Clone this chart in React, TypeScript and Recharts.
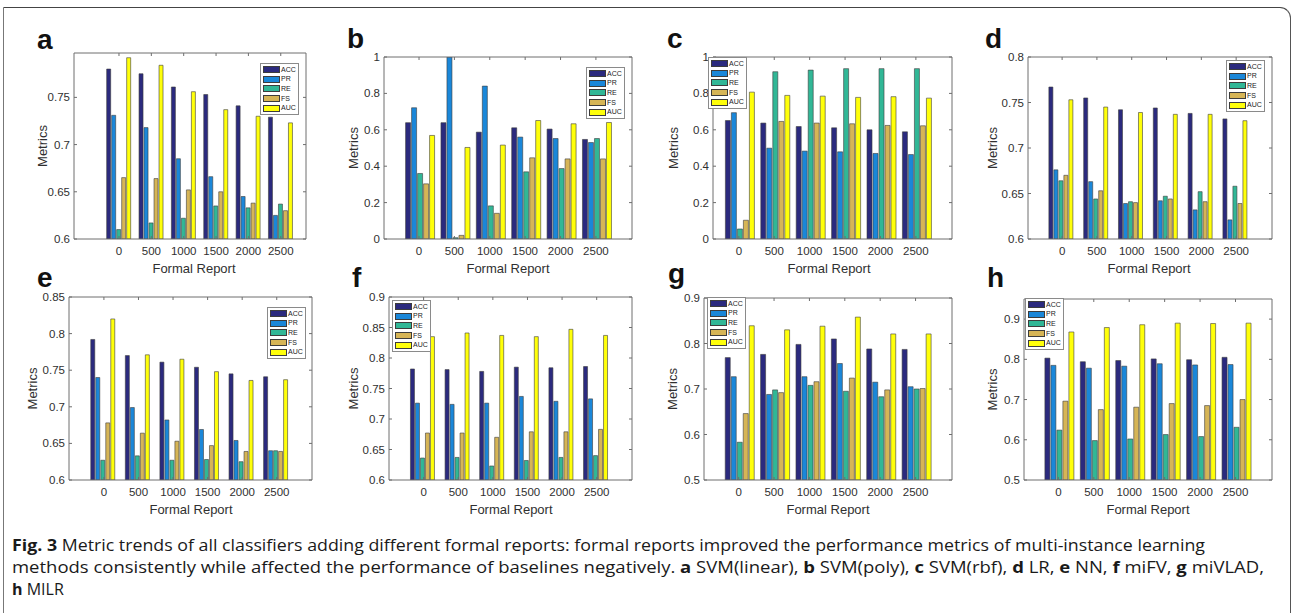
import React from 'react';
import { BarChart, Bar, XAxis, YAxis, Legend } from 'recharts';

const categories = ['0', '500', '1000', '1500', '2000', '2500'];
const metricNames = ['ACC', 'PR', 'RE', 'FS', 'AUC'];
const metricColors = ['#2b2a7e', '#1a87d9', '#31b796', '#d6b556', '#ffff0a'];

// a SVM(linear)
const aACC = [0.780, 0.775, 0.761, 0.753, 0.741, 0.729];
const aPR = [0.731, 0.718, 0.685, 0.666, 0.645, 0.625];
const aRE = [0.610, 0.617, 0.622, 0.635, 0.633, 0.637];
const aFS = [0.665, 0.664, 0.652, 0.650, 0.638, 0.630];
const aAUC = [0.792, 0.784, 0.756, 0.737, 0.730, 0.723];
// b SVM(poly)
const bACC = [0.639, 0.639, 0.587, 0.611, 0.604, 0.547];
const bPR = [0.721, 1.0, 0.840, 0.560, 0.552, 0.530];
const bRE = [0.360, 0.007, 0.182, 0.369, 0.387, 0.552];
const bFS = [0.303, 0.020, 0.141, 0.446, 0.440, 0.440];
const bAUC = [0.569, 0.503, 0.516, 0.651, 0.633, 0.640];
// c SVM(rbf)
const cACC = [0.651, 0.637, 0.618, 0.611, 0.600, 0.589];
const cPR = [0.694, 0.499, 0.483, 0.479, 0.470, 0.464];
const cRE = [0.055, 0.919, 0.928, 0.936, 0.936, 0.936];
const cFS = [0.103, 0.646, 0.637, 0.633, 0.624, 0.622];
const cAUC = [0.807, 0.789, 0.785, 0.778, 0.782, 0.774];
// d LR
const dACC = [0.767, 0.755, 0.742, 0.744, 0.738, 0.732];
const dPR = [0.676, 0.663, 0.639, 0.642, 0.632, 0.621];
const dRE = [0.664, 0.644, 0.641, 0.647, 0.652, 0.658];
const dFS = [0.670, 0.653, 0.640, 0.644, 0.641, 0.639];
const dAUC = [0.753, 0.745, 0.739, 0.737, 0.737, 0.730];
// e NN
const eACC = [0.792, 0.770, 0.761, 0.754, 0.745, 0.741];
const ePR = [0.740, 0.699, 0.682, 0.669, 0.654, 0.640];
const eRE = [0.627, 0.633, 0.627, 0.628, 0.625, 0.640];
const eFS = [0.678, 0.664, 0.653, 0.647, 0.639, 0.639];
const eAUC = [0.820, 0.771, 0.765, 0.748, 0.736, 0.737];
// f miFV
const fACC = [0.782, 0.781, 0.778, 0.785, 0.784, 0.786];
const fPR = [0.726, 0.724, 0.726, 0.737, 0.729, 0.733];
const fRE = [0.636, 0.637, 0.623, 0.632, 0.637, 0.640];
const fFS = [0.677, 0.677, 0.670, 0.679, 0.679, 0.683];
const fAUC = [0.835, 0.841, 0.837, 0.835, 0.847, 0.837];
// g miVLAD
const gACC = [0.769, 0.776, 0.798, 0.810, 0.788, 0.787];
const gPR = [0.727, 0.688, 0.727, 0.756, 0.715, 0.705];
const gRE = [0.583, 0.698, 0.708, 0.695, 0.683, 0.700];
const gFS = [0.646, 0.692, 0.716, 0.724, 0.698, 0.701];
const gAUC = [0.839, 0.830, 0.838, 0.858, 0.821, 0.821];
// h MILR
const hACC = [0.803, 0.794, 0.797, 0.801, 0.799, 0.805];
const hPR = [0.785, 0.778, 0.783, 0.789, 0.786, 0.787];
const hRE = [0.624, 0.598, 0.602, 0.613, 0.608, 0.631];
const hFS = [0.696, 0.675, 0.681, 0.690, 0.685, 0.700];
const hAUC = [0.868, 0.879, 0.886, 0.890, 0.889, 0.890];

const ticksA = [0.6, 0.65, 0.7, 0.75];
const ticksB = [0, 0.2, 0.4, 0.6, 0.8, 1];
const ticksD = [0.6, 0.65, 0.7, 0.75, 0.8];
const ticksE = [0.6, 0.65, 0.7, 0.75, 0.8, 0.85];
const ticksF = [0.6, 0.65, 0.7, 0.75, 0.8, 0.85, 0.9];
const ticksG = [0.5, 0.6, 0.7, 0.8, 0.9];

const AX = '#6e6e6e';
const TXT = '#303030';
const FONT = '"Liberation Sans", Arial, Helvetica, sans-serif';

const fmt = (v: number) => String(parseFloat(Number(v).toFixed(3)));

type PanelDef = {
  letter: string;
  letterPos: [number, number];
  box: [number, number, number, number];
  yDomain: [number, number];
  yTicks: number[];
  extra: [number, number];
  legend: [number, number];
  ylabelX: number;
  xlabelX: number;
  series: number[][];
};

const panels: PanelDef[] = [
  { letter: 'a', letterPos: [37, 49], box: [74, 53, 306, 239], yDomain: [0.6, 0.797], yTicks: ticksA, extra: [1.39, 0.78], legend: [260, 63], ylabelX: 42, xlabelX: 194, series: [aACC, aPR, aRE, aFS, aAUC] },
  { letter: 'b', letterPos: [347, 48], box: [384, 57, 632, 239], yDomain: [0, 1], yTicks: ticksB, extra: [0.99, 1.02], legend: [586, 67], ylabelX: 353, xlabelX: 508, series: [bACC, bPR, bRE, bFS, bAUC] },
  { letter: 'c', letterPos: [667, 48], box: [713, 57, 952, 239], yDomain: [0, 1], yTicks: ticksB, extra: [0.73, 1.02], legend: [708, 57], ylabelX: 673, xlabelX: 829, series: [cACC, cPR, cRE, cFS, cAUC] },
  { letter: 'd', letterPos: [985, 48], box: [1028, 57, 1272, 239], yDomain: [0.6, 0.8], yTicks: ticksD, extra: [0.98, 1.03], legend: [1226, 60], ylabelX: 992, xlabelX: 1149, series: [dACC, dPR, dRE, dFS, dAUC] },
  { letter: 'e', letterPos: [37, 287], box: [69, 297, 312, 480], yDomain: [0.6, 0.85], yTicks: ticksE, extra: [1.01, 1.02], legend: [267, 307], ylabelX: 32, xlabelX: 191, series: [eACC, ePR, eRE, eFS, eAUC] },
  { letter: 'f', letterPos: [352, 287], box: [389, 297, 632, 480], yDomain: [0.6, 0.9], yTicks: ticksF, extra: [1.0, 1.02], legend: [392, 300], ylabelX: 353, xlabelX: 511, series: [fACC, fPR, fRE, fFS, fAUC] },
  { letter: 'g', letterPos: [668, 283], box: [704, 298, 952, 480], yDomain: [0.5, 0.9], yTicks: ticksG, extra: [0.98, 1.03], legend: [707, 297], ylabelX: 672, xlabelX: 828, series: [gACC, gPR, gRE, gFS, gAUC] },
  { letter: 'h', letterPos: [987, 287], box: [1024, 299, 1272, 480], yDomain: [0.5, 0.95], yTicks: ticksG, extra: [0.97, 1.03], legend: [1025, 298], ylabelX: 992, xlabelX: 1148, series: [hACC, hPR, hRE, hFS, hAUC] },
];

const BottomTick = (p: any) => (
  <g>
    <line x1={p.x} x2={p.x} y1={p.y} y2={p.y - 3} stroke={AX} strokeWidth={1} />
    <text x={p.x} y={p.y + 15.5} textAnchor="middle" fontSize={11.5} fontFamily={FONT} fill={TXT}>
      {p.payload.value}
    </text>
  </g>
);
const TopTick = (p: any) => <line x1={p.x} x2={p.x} y1={p.y} y2={p.y + 3} stroke={AX} strokeWidth={1} />;
const LeftTick = (p: any) => (
  <g>
    <line x1={p.x} x2={p.x + 3} y1={p.y} y2={p.y} stroke={AX} strokeWidth={1} />
    <text x={p.x - 4} y={p.y + 4} textAnchor="end" fontSize={11.5} fontFamily={FONT} fill={TXT}>
      {fmt(p.payload.value)}
    </text>
  </g>
);
const RightTick = (p: any) => <line x1={p.x} x2={p.x - 3} y1={p.y} y2={p.y} stroke={AX} strokeWidth={1} />;

const LegendBox = (props: any) => {
  const items = [...(props.payload || [])].sort(
    (u: any, v: any) => metricNames.indexOf(u.value) - metricNames.indexOf(v.value)
  );
  return (
    <div style={{ background: '#fff', border: '1px solid #8a8a8a', padding: '1px 2px', width: 33, boxSizing: 'content-box' }}>
      {items.map((e: any) => (
        <div key={e.value} style={{ display: 'flex', alignItems: 'center', height: 9.6 }}>
          <span style={{ display: 'inline-block', width: 17, height: 7, background: e.color, border: '1px solid #3c3c3c', boxSizing: 'border-box', flex: 'none' }} />
          <span style={{ marginLeft: 1, fontSize: 7, lineHeight: '8px', fontFamily: FONT, color: '#222' }}>{e.value}</span>
        </div>
      ))}
    </div>
  );
};

function Panel({ def }: { def: PanelDef }) {
  const [l, t, r, b] = def.box;
  const mL = 60, mR = 12, mT = 12, mB = 45;
  const w = r - l;
  const h = b - t;
  const s = w / (5 + def.extra[0] + def.extra[1]);
  const pad = { left: (def.extra[0] - 0.5) * s, right: (def.extra[1] - 0.5) * s };
  const rows = categories.map((cat, i) => {
    const o: any = { cat };
    metricNames.forEach((m, k) => {
      o[m] = def.series[k][i];
    });
    return o;
  });
  const cl = l - mL;
  const ct = t - mT;
  const common = { tickLine: false, tickSize: 0, tickMargin: 0, interval: 0 as const, axisLine: { stroke: AX } };
  return (
    <div style={{ position: 'absolute', left: cl, top: ct }}>
      <BarChart
        width={w + mL + mR}
        height={h + mT + mB}
        data={rows}
        margin={{ top: mT - 1, right: mR - 1, bottom: mB - 1, left: mL - 1 }}
        barCategoryGap="12%"
        barGap={1}
      >
        <XAxis dataKey="cat" height={1} padding={pad} {...common} tick={<BottomTick />} />
        <XAxis xAxisId="top" orientation="top" dataKey="cat" height={1} padding={pad} {...common} tick={<TopTick />} />
        <YAxis type="number" domain={def.yDomain} ticks={def.yTicks} allowDataOverflow width={1} {...common} tick={<LeftTick />} />
        <YAxis yAxisId="right" orientation="right" type="number" domain={def.yDomain} ticks={def.yTicks} allowDataOverflow width={1} {...common} tick={<RightTick />} />
        {metricNames.map((m, k) => (
          <Bar key={m} dataKey={m} name={m} fill={metricColors[k]} stroke="#3c3c3c" strokeWidth={0.6} isAnimationActive={false} />
        ))}
        <Legend
          layout="vertical"
          align="center"
          verticalAlign="middle"
          wrapperStyle={{ left: def.legend[0] - cl, top: def.legend[1] - ct, width: 'auto' }}
          content={<LegendBox />}
        />
      </BarChart>
    </div>
  );
}

export default function App() {
  return (
    <div style={{ position: 'absolute', left: 0, top: 0, width: 1292, height: 613, background: '#fff', overflow: 'hidden' }}>
      <div style={{ position: 'absolute', left: 3, top: 7, width: 1286, height: 700, borderTop: '1px solid #444', borderLeft: '1px solid #777', borderRight: '1px solid #555', borderTopRightRadius: 11 }} />
      {panels.map((p) => (
        <Panel key={p.letter} def={p} />
      ))}
      <svg width={1292} height={613} style={{ position: 'absolute', left: 0, top: 0, pointerEvents: 'none' }}>
        {panels.map((p) => {
          const [l, t, r, b] = p.box;
          const cy = (t + b) / 2;
          return (
            <g key={p.letter}>
              <text x={p.letterPos[0]} y={p.letterPos[1]} fontSize={28} fontWeight="bold" fontFamily={FONT} fill="#111">{p.letter}</text>
              <text x={p.ylabelX} y={cy} transform={`rotate(-90 ${p.ylabelX} ${cy})`} textAnchor="middle" dominantBaseline="central" fontSize={13} fontFamily={FONT} fill={TXT}>Metrics</text>
              <text x={p.xlabelX} y={b + 33.5} textAnchor="middle" fontSize={13} fontFamily={FONT} fill={TXT}>Formal Report</text>
            </g>
          );
        })}
        <g fontFamily='"Open Sans", "Noto Sans", sans-serif' fontSize={16} fill="#1a1a1a">
          <text x={12} y={551} textLength={1193} lengthAdjust="spacingAndGlyphs">
            <tspan fontWeight="bold">Fig. 3</tspan> Metric trends of all classifiers adding different formal reports: formal reports improved the performance metrics of multi-instance learning
          </text>
          <text x={12} y={573} textLength={1252} lengthAdjust="spacingAndGlyphs">
            methods consistently while affected the performance of baselines negatively. <tspan fontWeight="bold">a</tspan> SVM(linear), <tspan fontWeight="bold">b</tspan> SVM(poly), <tspan fontWeight="bold">c</tspan> SVM(rbf), <tspan fontWeight="bold">d</tspan> LR, <tspan fontWeight="bold">e</tspan> NN, <tspan fontWeight="bold">f</tspan> miFV, <tspan fontWeight="bold">g</tspan> miVLAD,
          </text>
          <text x={12} y={595}>
            <tspan fontWeight="bold">h</tspan> MILR
          </text>
        </g>
      </svg>
    </div>
  );
}
